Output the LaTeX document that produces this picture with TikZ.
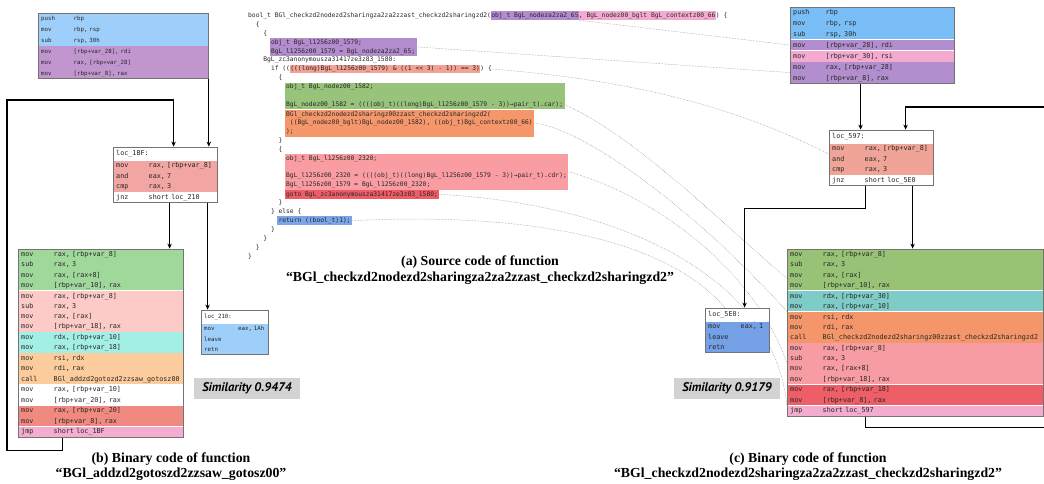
\documentclass[tikz,border=0pt]{standalone}
\usepackage{fontspec}
\setmainfont{Liberation Serif}
\setmonofont{DejaVu Sans Mono}
\newfontfamily\simfont{PT Sans}
\usepackage{xcolor}
\usetikzlibrary{arrows.meta,positioning,fit,backgrounds}
% left binary
\definecolor{Ablue}{RGB}{158,206,250}
\definecolor{Apurple}{RGB}{193,150,207}
\definecolor{lsalmon}{RGB}{242,166,163}
\definecolor{lgreen}{RGB}{160,216,155}
\definecolor{lrose}{RGB}{252,202,199}
\definecolor{lcyan}{RGB}{163,239,229}
\definecolor{lpeach}{RGB}{253,204,156}
\definecolor{lred}{RGB}{240,138,128}
\definecolor{lpink}{RGB}{244,172,208}
% right binary
\definecolor{Eblue}{RGB}{122,190,248}
\definecolor{Epurple}{RGB}{178,142,206}
\definecolor{Epink}{RGB}{243,170,206}
\definecolor{rsalmon}{RGB}{240,164,152}
\definecolor{rgreen}{RGB}{152,194,117}
\definecolor{rteal}{RGB}{126,203,200}
\definecolor{rorange}{RGB}{245,150,106}
\definecolor{rpink}{RGB}{247,156,163}
\definecolor{rred}{RGB}{237,94,102}
\definecolor{rjmp}{RGB}{242,172,206}
\definecolor{Hblue}{RGB}{116,160,230}
% source highlights
\definecolor{srcpurple}{RGB}{178,140,205}
\definecolor{srcpink}{RGB}{244,170,208}
\definecolor{srcsalmon}{RGB}{242,161,149}
\definecolor{srcgreen}{RGB}{152,195,122}
\definecolor{srcorange}{RGB}{245,151,106}
\definecolor{srcrose}{RGB}{249,157,163}
\definecolor{srcred}{RGB}{239,92,102}
\definecolor{srcblue}{RGB}{123,165,232}
\definecolor{simgray}{RGB}{211,211,211}
\newcommand{\asmfont}[2]{\fontsize{#1}{#2}\selectfont\ttfamily}
\newcommand{\srcfont}{\fontsize{6.3}{8.92}\selectfont\ttfamily}
\newcommand{\asmline}[3][32.5pt]{\strut\makebox[#1][l]{#2}#3}
\tikzset{
  grp/.style={inner xsep=3pt,inner ysep=0pt,align=left,text=black!85,
              text width=#1,font=\asmfont{6.75}{10.3}},
  hdr/.style={fill=white,minimum height=13pt},
  blk/.style={draw=black!55,line width=0.8pt,inner sep=0pt,fit=#1},
  flow/.style={-{Stealth[length=5pt,width=4.5pt]},line width=1.2pt,black},
  link/.style={densely dotted,black!45,line width=0.5pt},
  src/.style={font=\srcfont,inner sep=0pt,anchor=west,text=black!85,
              execute at begin node=\strut},
  srcblk/.style={font=\srcfont,inner xsep=1.5pt,inner ysep=0pt,align=left,
                 anchor=north west,text=black!85},
  simbox/.style={fill=simgray,minimum width=106pt,minimum height=21pt,inner sep=0pt,
              font={\fontsize{12.5}{14}\selectfont\simfont\bfseries\itshape}},
  captext/.style={align=center,inner sep=0pt,
              font={\fontsize{13.8}{15.6}\selectfont\bfseries}},
}
\begin{document}
\begin{tikzpicture}[x=1pt,y=-1pt]
  \useasboundingbox (0,0) rectangle (1044,483);

  % BGl_addzd2gotoszd2zzsaw_gotosz00
  \node[grp=164pt,font=\asmfont{5.75}{10.8},fill=Ablue,anchor=north west] (a1) at (38,13)
    {\asmline{push}{rbp}\\\asmline{mov}{rbp, rsp}\\\asmline{sub}{rsp, 30h}};
  \node[grp=164pt,font=\asmfont{5.75}{10.8},fill=Apurple,below=0pt of a1] (a2)
    {\asmline{mov}{[rbp+var\_28], rdi}\\\asmline{mov}{rax, [rbp+var\_28]}\\\asmline{mov}{[rbp+var\_8], rax}};
  \node[blk=(a1)(a2)] (A) {};

  \node[grp=98pt,hdr,anchor=north west] (b0) at (113,147) {\strut loc\_1BF:};
  \node[grp=98pt,fill=lsalmon,below=0pt of b0] (b1)
    {\asmline{mov}{rax, [rbp+var\_8]}\\\asmline{and}{eax, 7}\\\asmline{cmp}{rax, 3}};
  \node[grp=98pt,fill=white,below=0pt of b1] (b2) {\asmline{jnz}{short loc\_210}};
  \node[blk=(b0)(b2)] (B) {};

  \node[grp=159pt,fill=lgreen,anchor=north west] (c1) at (18,249)
    {\asmline{mov}{rax, [rbp+var\_8]}\\\asmline{sub}{rax, 3}\\\asmline{mov}{rax, [rax+8]}\\\asmline{mov}{[rbp+var\_10], rax}};
  \node[grp=159pt,fill=lrose,below=0pt of c1] (c2)
    {\asmline{mov}{rax, [rbp+var\_8]}\\\asmline{sub}{rax, 3}\\\asmline{mov}{rax, [rax]}\\\asmline{mov}{[rbp+var\_18], rax}};
  \node[grp=159pt,fill=lcyan,below=0pt of c2] (c3)
    {\asmline{mov}{rdx, [rbp+var\_10]}\\\asmline{mov}{rax, [rbp+var\_18]}};
  \node[grp=159pt,fill=lpeach,below=0pt of c3] (c4)
    {\asmline{mov}{rsi, rdx}\\\asmline{mov}{rdi, rax}\\\asmline{call}{BGl\_addzd2gotozd2zzsaw\_gotosz00}};
  \node[grp=159pt,fill=white,below=0pt of c4] (c5)
    {\asmline{mov}{rax, [rbp+var\_10]}\\\asmline{mov}{[rbp+var\_20], rax}};
  \node[grp=159pt,fill=lred,below=0pt of c5] (c6)
    {\asmline{mov}{rax, [rbp+var\_20]}\\\asmline{mov}{[rbp+var\_8], rax}};
  \node[grp=159pt,fill=lpink,below=0pt of c6] (c7) {\asmline{jmp}{short loc\_1BF}};
  \node[blk=(c1)(c7)] (C) {};

  \node[grp=61pt,hdr,font=\asmfont{5.75}{10.3},anchor=north west] (d0) at (201,310) {\strut loc\_210:};
  \node[grp=61pt,font=\asmfont{5.75}{10.3},fill=Ablue,below=0pt of d0] (d1)
    {\asmline[34pt]{mov}{eax, 1Ah}\\\strut leave\\\strut retn};
  \node[blk=(d0)(d1)] (D) {};

  \coordinate (loopL) at (7,100);
  \draw[flow] ([xshift=45pt]C.south west) -- ++(0,13) -| (loopL) -| ([xshift=61pt]B.north west);
  \draw[flow] (A.south east) -- (A.south east |- B.north);
  \draw[flow] ([xshift=57pt]B.south west) -- ([xshift=57pt]B.south west |- C.north);
  \draw[flow] ([xshift=95pt]B.south west) -- ([xshift=95pt]B.south west |- D.north);

  \node[simbox] (simb) at (247,388.5) {Similarity 0.9474};
  \node[captext] (capb) at (171,466.5) {(b) Binary code of function\\“BGl\_addzd2gotoszd2zzsaw\_gotosz00”};

  % source of BGl_checkzd2nodezd2sharingza2za2zzast_checkzd2sharingzd2
  \node[src] (s0a) at (248,15.5) {bool\_t BGl\_checkzd2nodezd2sharingza2za2zzast\_checkzd2sharingzd2(};
  \node[src,fill=srcpurple,right=0pt of s0a] (s0b) {obj\_t BgL\_nodeza2za2\_65};
  \node[src,fill=srcpink,right=0pt of s0b] (s0c) {, BgL\_nodez00\_bglt BgL\_contextz00\_66};
  \node[src,right=0pt of s0c] (s0d) {) \{};
  \node[src] (s1) at (255.6,24.4) {\{};
  \node[src] (s2) at (263.2,33.3) {\{};
  \node[srcblk,fill=srcpurple] (srcvar) at (269.3,37.8)
    {\strut obj\_t BgL\_l1256z00\_1579;\\\strut BgL\_l1256z00\_1579 = BgL\_nodeza2za2\_65;};
  \node[src] (s5) at (263.2,60.1) {BgL\_zc3anonymousza31417ze3z83\_1580:};
  \node[src] (s6a) at (270.8,69) {if ((};
  \node[src,fill=srcsalmon,right=0pt of s6a] (s6b) {(((long)BgL\_l1256z00\_1579) \& ((1 << 3) - 1)) == 3)};
  \node[src,right=0pt of s6b] (s6c) {) \{};
  \node[src] (s7) at (278.4,77.9) {\{};
  \node[srcblk,fill=srcgreen] (srcnode) at (284.5,82.4)
    {\strut obj\_t BgL\_nodez00\_1582;\\\strut\\
     \strut BgL\_nodez00\_1582 = ((((obj\_t)((long)BgL\_l1256z00\_1579 - 3))→pair\_t).car);};
  \node[srcblk,fill=srcorange] (srccall) at (srcnode.south west)
    {\strut BGl\_checkzd2nodezd2sharingz00zzast\_checkzd2sharingzd2(\\
     \strut\hphantom{(}((BgL\_nodez00\_bglt)BgL\_nodez00\_1582), ((obj\_t)BgL\_contextz00\_66)\\
     \strut);};
  \node[src] (s14) at (278.4,140.4) {\}};
  \node[src] (s15) at (278.4,149.3) {\{};
  \node[srcblk,fill=srcrose] (srcnext) at (284.5,153.7)
    {\strut obj\_t BgL\_l1256z00\_2320;\\\strut\\
     \strut BgL\_l1256z00\_2320 = ((((obj\_t)((long)BgL\_l1256z00\_1579 - 3))→pair\_t).cdr);\\
     \strut BgL\_l1256z00\_1579 = BgL\_l1256z00\_2320;};
  \node[srcblk,fill=srcred] (srcgoto) at (srcnext.south west)
    {\strut goto BgL\_zc3anonymousza31417ze3z83\_1580;};
  \node[src] (s21) at (278.4,202.8) {\}};
  \node[src] (s22) at (270.8,211.7) {\} else \{};
  \node[src,fill=srcblue,inner xsep=1.5pt] (s23) at (276.9,220.7) {return ((bool\_t)1);};
  \node[src] (s24) at (270.8,229.6) {\}};
  \node[src] (s25) at (263.2,238.5) {\}};
  \node[src] (s26) at (255.6,247.4) {\}};
  \node[src] (s27) at (248,256.3) {\}};
  \node[captext] (capa) at (480,270) {(a) Source code of function\\“BGl\_checkzd2nodezd2sharingza2za2zzast\_checkzd2sharingzd2”};

  % BGl_checkzd2nodezd2sharingza2za2zzast_checkzd2sharingzd2
  \node[grp=158pt,font=\asmfont{6.75}{10.7},fill=Eblue,anchor=north west] (e1) at (790,7)
    {\asmline{push}{rbp}\\\asmline{mov}{rbp, rsp}\\\asmline{sub}{rsp, 30h}};
  \node[grp=158pt,font=\asmfont{6.75}{10.7},fill=Epurple,below=0pt of e1] (e2) {\asmline{mov}{[rbp+var\_28], rdi}};
  \node[grp=158pt,font=\asmfont{6.75}{10.7},fill=Epink,below=0pt of e2] (e3) {\asmline{mov}{[rbp+var\_30], rsi}};
  \node[grp=158pt,font=\asmfont{6.75}{10.7},fill=Epurple,below=0pt of e3] (e4)
    {\asmline{mov}{rax, [rbp+var\_28]}\\\asmline{mov}{[rbp+var\_8], rax}};
  \node[blk=(e1)(e4)] (E) {};

  \node[grp=98pt,hdr,anchor=north west] (f0) at (829,130) {\strut loc\_597:};
  \node[grp=98pt,fill=rsalmon,below=0pt of f0] (f1)
    {\asmline{mov}{rax, [rbp+var\_8]}\\\asmline{and}{eax, 7}\\\asmline{cmp}{rax, 3}};
  \node[grp=98pt,fill=white,below=0pt of f1] (f2) {\asmline{jnz}{short loc\_5E0}};
  \node[blk=(f0)(f2)] (F) {};

  \node[grp=250pt,fill=rgreen,anchor=north west] (g1) at (787,249)
    {\asmline{mov}{rax, [rbp+var\_8]}\\\asmline{sub}{rax, 3}\\\asmline{mov}{rax, [rax]}\\\asmline{mov}{[rbp+var\_10], rax}};
  \node[grp=250pt,fill=rteal,below=0pt of g1] (g2)
    {\asmline{mov}{rdx, [rbp+var\_30]}\\\asmline{mov}{rax, [rbp+var\_10]}};
  \node[grp=250pt,fill=rorange,below=0pt of g2] (g3)
    {\asmline{mov}{rsi, rdx}\\\asmline{mov}{rdi, rax}\\\asmline{call}{BGl\_checkzd2nodezd2sharingz00zzast\_checkzd2sharingzd2}};
  \node[grp=250pt,fill=rpink,below=0pt of g3] (g4)
    {\asmline{mov}{rax, [rbp+var\_8]}\\\asmline{sub}{rax, 3}\\\asmline{mov}{rax, [rax+8]}\\\asmline{mov}{[rbp+var\_18], rax}};
  \node[grp=250pt,fill=rred,below=0pt of g4] (g5)
    {\asmline{mov}{rax, [rbp+var\_18]}\\\asmline{mov}{[rbp+var\_8], rax}};
  \node[grp=250pt,fill=rjmp,below=0pt of g5] (g6) {\asmline{jmp}{short loc\_597}};
  \node[blk=(g1)(g6)] (G) {};

  \node[grp=58pt,hdr,anchor=north west] (h0) at (705,308) {\strut loc\_5E0:};
  \node[grp=58pt,fill=Hblue,below=0pt of h0] (h1)
    {\asmline{mov}{eax, 1}\\\strut leave\\\strut retn};
  \node[blk=(h0)(h1)] (H) {};

  \coordinate (loopR) at (1050,107);
  \draw[flow] ([xshift=71pt]E.south west) -- ([xshift=71pt]E.south west |- F.north);
  \draw[flow] ([xshift=79pt]G.south west) -- ++(0,11) -| (loopR) -| ([xshift=77pt]F.north west);
  \draw[flow] ([xshift=84pt]F.south west) -- ([xshift=84pt]F.south west |- G.north);
  \draw[flow] ([xshift=37pt]F.south west) -- ++(0,23) -| ([xshift=40pt]H.north west);

  \node[simbox] (simc) at (727,388.5) {Similarity 0.9179};
  \node[captext] (capc) at (808,466.5) {(c) Binary code of function\\“BGl\_checkzd2nodezd2sharingza2za2zzast\_checkzd2sharingzd2”};

  \begin{scope}[on background layer]
    \draw[link] (s0b.south east) -- (e2.west);
    \draw[link] (srcvar.east) -- (e4.west);
    \draw[link] (s6c.east) .. controls +(150,12) and +(-90,-45) .. ([yshift=5pt]f1.west);
    \draw[link] ([yshift=-8.9pt]srcnode.east) .. controls +(70,30) and +(-60,-50) .. ([yshift=-8.4pt]g1.west);
    \draw[link] (srccall.east) .. controls +(50,5) and +(-90,-100) .. (g3.north west);
    \draw[link] (srcnext.east) .. controls +(90,25) and +(-30,-90) .. (g4.west);
    \draw[link] (srcgoto.east) .. controls +(160,8) and +(-15,-140) .. (g6.north west);
    \draw[link] (s23.east) .. controls +(200,-10) and +(-50,-60) .. ([xshift=20pt]H.north west);
  \end{scope}
\end{tikzpicture}
\end{document}
